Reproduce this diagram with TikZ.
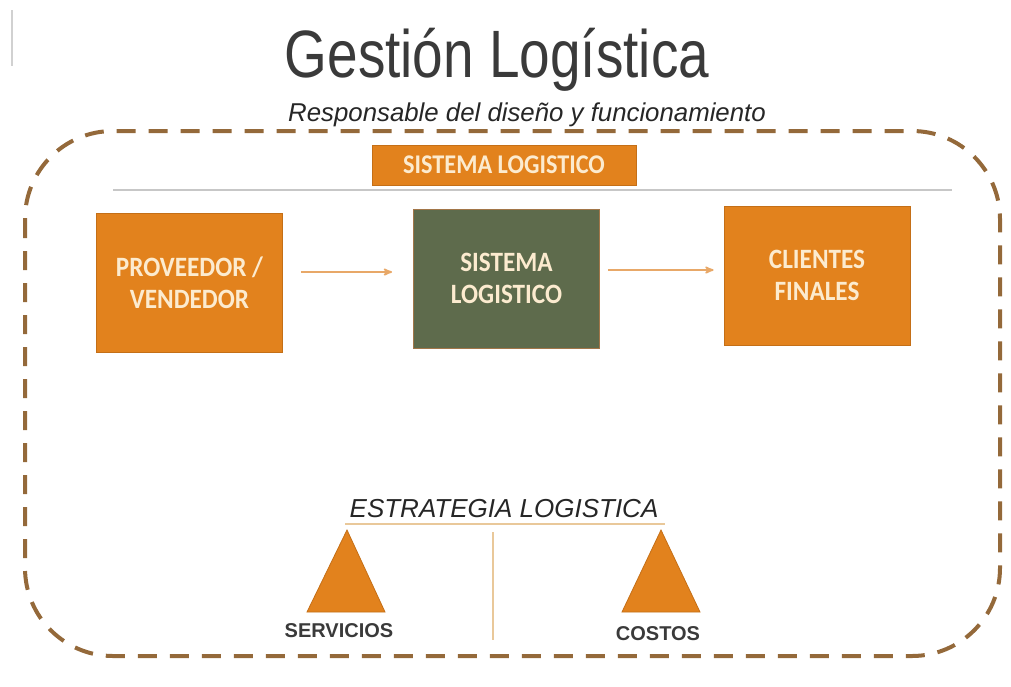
\documentclass[tikz,border=0pt]{standalone}
\usepackage{fontspec}
\usepackage{tikz}
\usetikzlibrary{arrows,positioning}
\setmainfont{Liberation Sans}
\newfontfamily\titlefont{Liberation Sans}[FakeStretch=0.82]
\newfontfamily\boxfont{Carlito}[FakeStretch=0.9]

\definecolor{logorange}{HTML}{E2821D}
\definecolor{logedge}{HTML}{C46F17}
\definecolor{loggreen}{HTML}{5E6B4C}
\definecolor{logcream}{HTML}{FCEBCF}
\definecolor{logdash}{HTML}{94693A}
\definecolor{logtan}{HTML}{E9C89A}
\definecolor{logarrow}{HTML}{E8A868}
\definecolor{logtext}{HTML}{3A3A3A}

\begin{document}
\begin{tikzpicture}
[x=1pt,y=-1pt,>=stealth',
  box/.style={rectangle,fill=logorange,draw=logedge,line width=0.8pt,text=logcream,
    minimum width=186pt,minimum height=139pt,inner sep=0pt,align=center,
    font=\boxfont\bfseries\fontsize{28}{32}\selectfont},
  flow/.style={->,draw=logarrow,line width=1.8pt},
  tanline/.style={draw=logtan,line width=2.2pt}]

  \useasboundingbox (0,0) rectangle (1011,686);
  \draw [draw=black!18,line width=1.5pt] (12,10) -- (12,66);

  % titulo
  \node [anchor=base,text=logtext,font=\titlefont\fontsize{67}{70}\selectfont] (titulo) at (497,77) {Gestión Logística};
  \node [anchor=base,text=black!85,font=\itshape\fontsize{25.8}{28}\selectfont] (subtitulo) at (527,121) {Responsable del diseño y funcionamiento};

  % marco
  \draw [draw=logdash,line width=4pt,dash pattern=on 19pt off 13pt,rounded corners=88pt] (25,131) rectangle (1000,656);

  \node [box,minimum width=264pt,minimum height=40pt,font=\boxfont\bfseries\fontsize{27}{30}\selectfont] (sistop) at (504,165) {SISTEMA LOGISTICO};
  \draw [draw=black!22,line width=2pt] (113,190) -- (952,190);

  \node [box] (Proveedor) at 	(189.5,282.5) 	{PROVEEDOR /\\VENDEDOR};
  \node [box,fill=loggreen,draw=logarrow!70!black] (Sistema) at 	(506.5,278.5) 	{SISTEMA\\LOGISTICO};
  \node [box] (Clientes) at 	(817,275.5) 	{CLIENTES\\FINALES};

  \draw [flow,shorten <=18pt,shorten >=21pt] ([yshift=10.5pt]Proveedor.east) -- ([yshift=6.5pt]Sistema.west);
  \draw [flow,shorten <=8pt,shorten >=10pt] ([yshift=8.5pt]Sistema.east) -- ([yshift=5.5pt]Clientes.west);

  % estrategia
  \node [anchor=base,text=black!85,font=\itshape\fontsize{26}{28}\selectfont] (estrategia) at (504,517) {ESTRATEGIA LOGISTICA};
  \coordinate (balizq) at (345,524);
  \coordinate (balder) at (665,524);
  \draw [tanline] (balizq) -- (balder);
  \coordinate (ejearr) at (493,532);
  \coordinate (ejeabj) at (493,640);
  \draw [tanline,line width=1.8pt] (ejearr) -- (ejeabj);

  \filldraw [fill=logorange,draw=logedge,line width=0.8pt] (347,530) -- (385,612) -- (307,612) -- cycle;
  \filldraw [fill=logorange,draw=logedge,line width=0.8pt] (661,530) -- (700,612) -- (622,612) -- cycle;

  \node [anchor=base,text=logtext,font=\bfseries\fontsize{20}{22}\selectfont] (servicios) at (339,637) {SERVICIOS};
  \node [anchor=base,text=logtext,font=\bfseries\fontsize{20}{22}\selectfont] (costos) at (658,640) {COSTOS};

\end{tikzpicture}
\end{document}
